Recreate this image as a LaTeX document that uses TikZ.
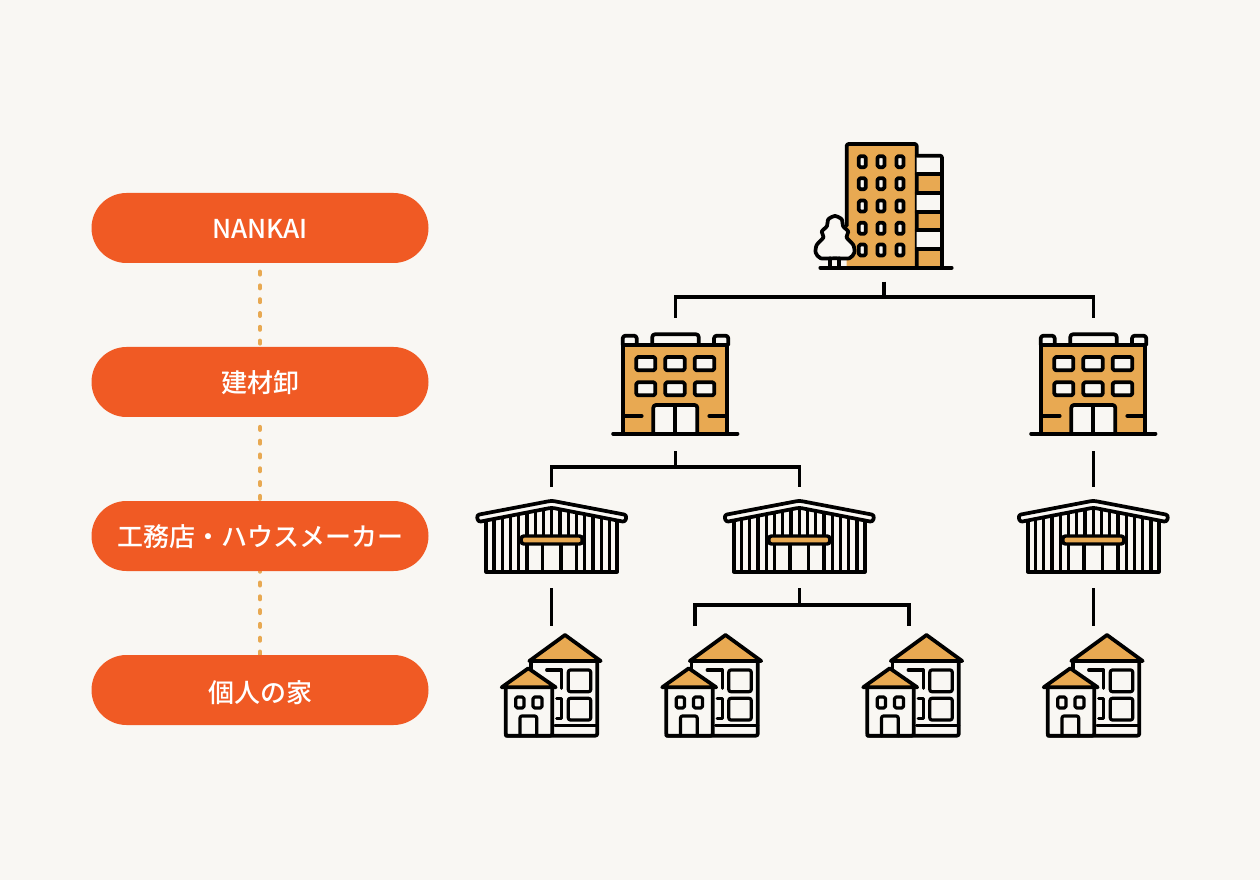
\documentclass[tikz,border=0pt]{standalone}
\usepackage{fontspec}
\setmainfont{Noto Sans CJK JP Medium}
\usetikzlibrary{backgrounds}
\definecolor{paper}{HTML}{F9F7F3}
\definecolor{ochre}{HTML}{E8A952}
\definecolor{flame}{HTML}{F05A24}
\newcommand{\lowered}[2]{\raisebox{-#1}[\height][\depth]{#2}}
\tikzset{
	ink/.style={line width=2.8pt,line join=round,line cap=round},
	thin ink/.style={line width=2.4pt,line join=round,line cap=round},
	link/.style={line width=2.3pt},
	dotlink/.style={ochre,line width=3pt,line cap=round,xshift=0.3pt,dash pattern=on 2.25pt off 8.1pt},
	pill/.style={fill=flame,text=white,rounded corners=26.25pt,minimum width=252.75pt,minimum height=52.5pt,inner sep=0pt,font=\fontsize{19.5pt}{24pt}\selectfont},
	windowpane/.style={ink,fill=paper,rounded corners=1.2pt},
	tower/.pic={
		\fill[ochre] (-37.3,-123.7) rectangle (32.7,0) (32.7,-112) rectangle (58,0);
		\draw[ink,rounded corners=1.5pt] (-37.3,-42) -- (-37.3,-123.7) -- (32.7,-123.7) -- (32.7,0);
		\fill[paper] (32.7,-112) rectangle (58,-93.4) (32.7,-75) rectangle (58,-56) (32.7,-37.7) rectangle (58,-18.7);
		\draw[ink,rounded corners=1.5pt] (32.7,-112) -- (58,-112) -- (58,0);
		\foreach \y in {-93.4,-75,-56,-37.7,-18.7}
			\draw[ink] (32.7,\y) -- (58,\y);
		\foreach \x in {-21.7,-3,16}
			\foreach \y in {-106,-84,-61.7,-39.4,-17.7}
				\draw[windowpane] (\x-3.5,\y-5.5) rectangle (\x+3.5,\y+5.5);
		\draw[ink,fill=paper] plot[smooth cycle,tension=0.45] coordinates {(-49,-51.7) (-42.3,-48.4) (-41,-41.7) (-35.7,-36) (-37.5,-30.4) (-30.7,-22.7) (-29.7,-15) (-34.7,-9.4) (-49,-9.4) (-63.3,-9.4) (-68.3,-15) (-67.3,-22.7) (-60.5,-30.4) (-62.3,-36) (-57,-41.7) (-55.7,-48.4)};
		\draw[ink] (-53.7,-9.4) -- (-53.7,0) (-44.7,-9.4) -- (-44.7,0);
		\draw[ink] (-63.7,0) -- (67.7,0);
		\coordinate (-bot) at (0,14);
	},
	office/.pic={
		\draw[ink,fill=paper,rounded corners=2pt] (-52.6,-88.7) -- (-52.6,-98) -- (-38.6,-98) -- (-38.6,-88.7);
		\draw[ink,fill=paper,rounded corners=2pt] (38.7,-88.7) -- (38.7,-98) -- (53,-98) -- (53,-88.7);
		\draw[ink,fill=paper,rounded corners=2pt] (-23,-88.7) -- (-23,-99.4) -- (23.4,-99.4) -- (23.4,-88.7);
		\draw[ink,fill=ochre] (-52,0) -- (-52,-88.7) -- (52,-88.7) -- (52,0);
		\foreach \a/\b in {-39/-20,-10/9.4,19.4/39}
			\foreach \c/\d in {-76.7/-63.4,-51.4/-38.4}
				\draw[windowpane] (\a,\c) rectangle (\b,\d);
		\draw[ink,fill=paper,rounded corners=2pt] (-22,0) -- (-22,-28.7) -- (22,-28.7) -- (22,0);
		\draw[ink] (0,-28.7) -- (0,0);
		\draw[ink] (-50,-17.7) -- (-33.6,-17.7) (34,-17.7) -- (51.4,-17.7);
		\draw[ink] (-62.2,0) -- (62.2,0);
		\coordinate (-top) at (0,-115.7);
		\coordinate (-bot) at (0,17.3);
	},
	shed/.pic={
		\foreach \k in {-7,-6,-5,-4,-3,3,4,5,6,7}
			\draw[thin ink] ({8.25*\k},{-65+0.195*abs(8.25*\k)}) -- ({8.25*\k},0);
		\foreach \k in {-2,-1,0,1,2}
			\draw[thin ink] ({8.25*\k},{-65+0.195*abs(8.25*\k)}) -- ({8.25*\k},-30);
		\draw[thin ink] (-9.3,-30) -- (-9.3,0) (9.3,-30) -- (9.3,0);
		\draw[ink] (-65.5,-50) -- (-65.5,0) -- (65.5,0) -- (65.5,-50);
		\draw[ink,fill=paper,rounded corners=2pt] (-75,-56.7) -- (0,-71) -- (75,-56.7) -- (73.5,-49.7) -- (0,-64) -- (-73.5,-49.7) -- cycle;
		\draw[line width=2.6pt,fill=ochre,rounded corners=2pt] (-30.5,-35.7) rectangle (30.5,-27.7);
		\coordinate (-top) at (0,-84.7);
		\coordinate (-bot) at (0,16.3);
	},
	house/.pic={
		\fill[paper] (-34,-74.7) rectangle (32.3,0);
		\draw[ink,rounded corners=1.5pt] (-34,-74.7) -- (-34,-62);
		\draw[ink,rounded corners=1.5pt] (32.3,-74.7) -- (32.3,0) -- (-59.3,0);
		\draw[thin ink,rounded corners=1.5pt] (3.3,-65.7) rectangle (25.7,-44) (3.3,-37.4) rectangle (25.7,-15.7);
		\draw[thin ink] (-18.3,-65.7) -- (-3.3,-65.7) -- (-3.3,-47.4);
		\draw[thin ink] (-8.3,-37.4) -- (-3.3,-37.4) -- (-3.3,-17) -- (-8.3,-17);
		\draw[thin ink] (-10,-10) -- (32.3,-10);
		\draw[ink,fill=ochre] (0,-100.7) -- (35.7,-74.7) -- (-35.7,-74.7) -- cycle;
		\draw[ink,fill=paper,rounded corners=1.5pt] (-59.3,-50) -- (-59.3,0) -- (-12.7,0) -- (-12.7,-50);
		\draw[ink,fill=ochre] (-36.7,-67.4) -- (-9.3,-48.4) -- (-63.3,-48.4) -- cycle;
		\draw[thin ink,rounded corners=1.2pt] (-49.3,-38.7) rectangle (-41,-27.7) (-32,-38.7) rectangle (-23,-27.7);
		\draw[thin ink,rounded corners=1.5pt] (-45,0) -- (-45,-19.7) -- (-28.3,-19.7) -- (-28.3,0);
	}
}
\begin{document}
\begin{tikzpicture}[x=0.75pt,y=-0.75pt]
	\useasboundingbox (0,0) rectangle (1260,880);
	\node [pill,at={(260,228)}] (nankai) {\lowered{0.8pt}{NANKAI}};
	\node [pill,at={(260,382)}] (kenzai) {\lowered{0.8pt}{建材卸}};
	\node [pill,at={(260,536)}] (koumuten) {\lowered{0.8pt}{工務店・ハウスメーカー}};
	\node [pill,at={(260,690)}] (kojin) {\lowered{2.2pt}{個人の家}};
	\begin{scope}[on background layer]
		\fill[paper] (0,0) rectangle (1260,880);
		\draw[dotlink,dash phase=4.1pt] (nankai.south) -- (kenzai.north);
		\draw[dotlink,dash phase=3.15pt] (kenzai.south) -- (koumuten.north);
		\draw[dotlink,dash phase=1.9pt] (koumuten.south) -- (kojin.north);
	\end{scope}
	\pic (tower) at (884,267.7) {tower};
	\pic (officeL) at (675.3,433.7) {office};
	\pic (officeR) at (1093.3,433.7) {office};
	\pic (shedA) at (551.7,571.7) {shed};
	\pic (shedB) at (799.3,571.7) {shed};
	\pic (shedC) at (1093.3,571.7) {shed};
	\pic (houseA) at (565,735.7) {house};
	\pic (houseB) at (725.5,735.7) {house};
	\pic (houseC) at (926.5,735.7) {house};
	\pic (houseD) at (1107,735.7) {house};
	\coordinate (busA) at (884,297);
	\coordinate (busB) at (675.3,467);
	\coordinate (busC) at (799.3,605);
	\coordinate (houseA-top) at (551.7,626);
	\coordinate (houseB-top) at (695,626);
	\coordinate (houseC-top) at (909,626);
	\coordinate (houseD-top) at (1093.3,626);
	\draw[link] (tower-bot) -- (busA);
	\draw[link] (officeL-top) |- (busA) -| (officeR-top);
	\draw[link] (officeL-bot) -- (busB);
	\draw[link] (shedA-top) |- (busB) -| (shedB-top);
	\draw[link] (officeR-bot) -- (shedC-top);
	\draw[link] (shedA-bot) -- (houseA-top);
	\draw[link] (shedB-bot) -- (busC);
	\draw[link] (houseB-top) |- (busC) -| (houseC-top);
	\draw[link] (shedC-bot) -- (houseD-top);
\end{tikzpicture}
\end{document}
